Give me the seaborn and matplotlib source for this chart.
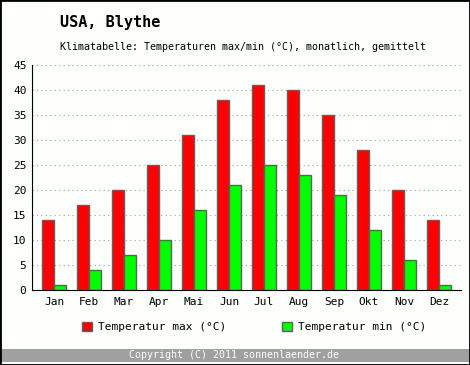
import pandas as pd
import matplotlib
matplotlib.use("Agg")
import matplotlib.pyplot as plt
import seaborn as sns
from matplotlib.patches import Rectangle, Patch

months = ["Jan", "Feb", "Mar", "Apr", "Mai", "Jun", "Jul", "Aug", "Sep", "Okt", "Nov", "Dez"]
temp_max = [14, 17, 20, 25, 31, 38, 41, 40, 35, 28, 20, 14]
temp_min = [1, 4, 7, 10, 16, 21, 25, 23, 19, 12, 6, 1]
label_max = "Temperatur max (°C)"
label_min = "Temperatur min (°C)"

df = pd.DataFrame({
    "Monat": months * 2,
    "Temp": temp_max + temp_min,
    "Serie": [label_max] * 12 + [label_min] * 12,
})

sns.set_style("white")
plt.rcParams["font.family"] = ["DejaVu Sans Mono"]
plt.rcParams["text.color"] = "black"
plt.rcParams["xtick.color"] = "black"
plt.rcParams["ytick.color"] = "black"

fig = plt.figure(figsize=(4.7, 3.65), dpi=100, facecolor="#fcfffc")
ax = fig.add_axes([32 / 470, 75 / 365, 429 / 470, 225 / 365])
ax.set_facecolor("#fcfffc")

sns.barplot(data=df, x="Monat", y="Temp", hue="Serie", order=months,
            palette=["#ff0000", "#00ff00"], saturation=1, width=0.69,
            edgecolor="#606060", linewidth=1, ax=ax, legend=False)

ax.set_ylim(0, 45)
ax.set_xlim(-0.63, 11.63)
ax.set_yticks(range(0, 46, 5))
ax.yaxis.grid(True, linestyle=(0, (1, 3)), color="#a0a0a0", linewidth=0.8)
ax.set_axisbelow(True)
ax.set_xlabel("")
ax.set_ylabel("")
for s in ["top", "right"]:
    ax.spines[s].set_visible(False)
ax.spines["left"].set_color("black")
ax.spines["bottom"].set_color("black")
ax.tick_params(axis="y", length=4, direction="inout", labelsize=8, pad=2)
ax.tick_params(axis="x", length=0, labelsize=8, pad=5)

fig.text(60 / 470, 1 - 22 / 365, "USA, Blythe", fontsize=11, fontweight="bold", va="center")
fig.text(60 / 470, 1 - 47 / 365,
         "Klimatabelle: Temperaturen max/min (°C), monatlich, gemittelt",
         fontsize=7.2, va="center")

handles = [Patch(facecolor="#ff0000", edgecolor="#606060", label=label_max),
           Patch(facecolor="#00ff00", edgecolor="#606060", label=label_min)]
fig.legend(handles=handles, loc="center left", bbox_to_anchor=(72 / 470, 1 - 327 / 365),
           ncol=2, frameon=False, fontsize=8, handlelength=0.9, handleheight=0.9,
           handletextpad=0.5, columnspacing=5.1)

fig.patches.append(Rectangle((0, 3 / 365), 1, 13 / 365, transform=fig.transFigure,
                             facecolor="#a0a0a0", edgecolor="none", zorder=0))
fig.text(234 / 470, 9.5 / 365, "Copyright (C) 2011 sonnenlaender.de",
         fontsize=7.2, color="white", ha="center", va="center")
fig.patches.append(Rectangle((0, 0), 1, 1, transform=fig.transFigure,
                             facecolor="none", edgecolor="black", linewidth=2))

fig.savefig("out.png", dpi=100, facecolor=fig.get_facecolor())
